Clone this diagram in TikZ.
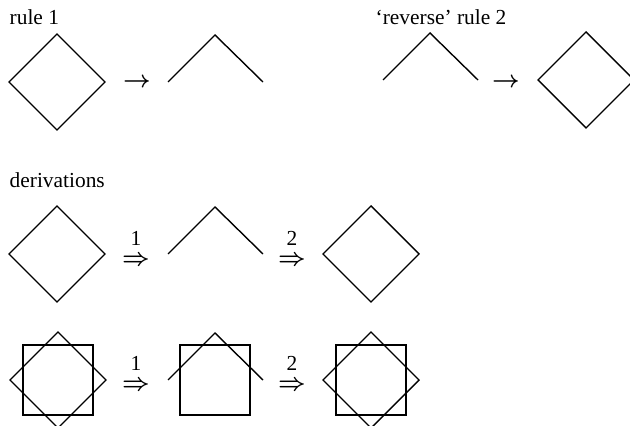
\documentclass[tikz,border=0pt]{standalone}
\usepackage{fontspec}
\setmainfont{Liberation Serif}
\begin{document}
\begin{tikzpicture}[x=0.5pt,y=-0.5pt,line width=0.7pt,line join=miter,
  lbl/.style={anchor=base west,inner sep=0pt,font=\fontsize{10.7}{12}\selectfont},
  arr/.style={inner sep=0pt,font=\fontsize{11.5}{12}\selectfont\boldmath},
  der/.style={inner sep=0pt,align=center,font=\fontsize{10.7}{10}\selectfont\boldmath},
  dmd/.pic={\draw (-48,0)--(0,-48)--(48,0)--(0,48)--cycle;},
  caret/.pic={\draw (-47,0)--(0,-47)--(48,0);},
  sq/.pic={\draw (-35,-35) rectangle (35,35);}]
\useasboundingbox (0,0) rectangle (630,426);
% row 1
\node[lbl] (t1) at (9,25) {rule 1};
\pic at (57,82) {dmd};
\node[arr] (a1) at (137,83) {$\rightarrow$};
\pic at (215,82) {caret};
\node[lbl] (t2) at (375,25) {‘reverse’ rule 2};
\pic at (430,80) {caret};
\node[arr] (a2) at (506,83) {$\rightarrow$};
\pic at (586,80) {dmd};
% row 2
\node[lbl] (t3) at (9,188) {derivations};
\pic at (57,254) {dmd};
\node[der] (a3) at (136,248) {1\\{\fontsize{11.5}{10}\selectfont$\Rightarrow$}};
\pic at (215,254) {caret};
\node[der] (a4) at (292,248) {2\\{\fontsize{11.5}{10}\selectfont$\Rightarrow$}};
\pic at (371,254) {dmd};
% row 3
\pic at (58,380) {dmd};
\pic at (58,380) {sq};
\node[der] (a5) at (136,373) {1\\{\fontsize{11.5}{10}\selectfont$\Rightarrow$}};
\pic at (215,380) {caret};
\pic at (215,380) {sq};
\node[der] (a6) at (292,373) {2\\{\fontsize{11.5}{10}\selectfont$\Rightarrow$}};
\pic at (371,380) {dmd};
\pic at (371,380) {sq};
\end{tikzpicture}
\end{document}
